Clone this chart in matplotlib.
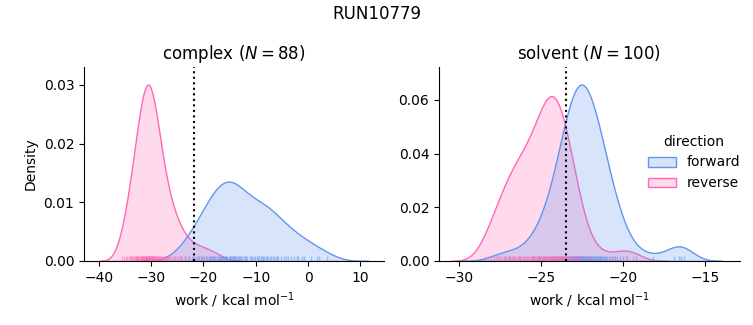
import matplotlib
matplotlib.use("Agg")
import matplotlib.pyplot as plt
import pandas as pd
import seaborn as sns

RUN = "RUN10779"
PHASES = ["complex", "solvent"]
DIRECTIONS = ["forward", "reverse"]
PALETTE = {"forward": "cornflowerblue", "reverse": "hotpink"}

# work values (kcal/mol)
complex_forward = [
    -24.3, -23.6, -22.8, -22.2, -21.7, -21.2, -20.9, -20.5, -20.2,
    -19.8, -19.5, -19.3, -19.0, -18.8, -18.6, -18.3, -18.1,
    -17.9, -17.7, -17.5, -17.3, -17.1, -16.9, -16.7, -16.6, -16.4, -16.2, -16.1,
    -15.9, -15.7, -15.6, -15.4, -15.2, -15.0, -14.9, -14.7, -14.6, -14.4, -14.2, -14.1,
    -13.9, -13.7, -13.5, -13.3, -13.2, -13.0, -12.8, -12.6, -12.3, -12.1,
    -11.8, -11.6, -11.1, -10.9, -10.7, -10.3, -10.1,
    -9.8, -9.6, -9.3, -9.0, -8.8, -8.6, -8.4, -8.1,
    -7.9, -7.6, -7.3, -7.1, -6.8, -6.5, -6.2, -6.0,
    -5.8, -5.2, -4.7, -4.2,
    -3.8, -3.3, -2.7, -2.1,
    -1.9, -1.2, -0.8, 0.5, 1.7, 2.1, 3.6,
]
complex_reverse = [
    -35.6, -35.1, -34.8, -34.5, -34.2, -34.0, -33.8, -33.6, -33.4, -33.2,
    -33.1, -32.9, -32.8, -32.7, -32.6, -32.5, -32.4, -32.3, -32.1, -32.0,
    -31.9, -31.9, -31.8, -31.7, -31.6, -31.5, -31.4, -31.4, -31.3, -31.2,
    -31.1, -31.0, -31.0, -30.9, -30.8, -30.7, -30.7, -30.6, -30.5, -30.4,
    -30.4, -30.3, -30.3, -30.2, -30.2, -30.1, -30.0, -29.9, -29.8, -29.8,
    -29.7, -29.6, -29.5, -29.4, -29.4, -29.3, -29.2, -29.0, -28.9, -28.8,
    -28.7, -28.6, -28.5, -28.3, -28.2, -28.1, -27.9, -27.7, -27.6, -27.4,
    -27.2, -27.0, -26.8, -26.6, -26.3, -26.0, -25.7, -25.4, -25.0, -24.6,
    -24.2, -23.6, -22.9, -22.0, -21.1, -20.0, -19.0, -17.2,
]
solvent_forward = [
    -27.6, -26.9, -26.3, -25.4, -25.1,
    -25.55, -25.04, -24.79, -24.61, -24.47, -24.35, -24.24, -24.16, -24.07, -23.99,
    -23.92, -23.86, -23.8, -23.74, -23.68, -23.63, -23.57, -23.52, -23.48, -23.43,
    -23.39, -23.34, -23.3, -23.26, -23.22, -23.18, -23.14, -23.1, -23.06, -23.02,
    -22.99, -22.95, -22.91, -22.88, -22.84, -22.81, -22.77, -22.74, -22.7, -22.67,
    -22.64, -22.6, -22.57, -22.53, -22.5, -22.5,
    -22.46, -22.43, -22.39, -22.35, -22.32, -22.28, -22.24, -22.2, -22.17, -22.13,
    -22.09, -22.05, -22.01, -21.97, -21.93, -21.89, -21.85, -21.81, -21.77, -21.72,
    -21.68, -21.63, -21.59, -21.54, -21.49, -21.44, -21.39, -21.34, -21.28, -21.22,
    -21.16, -21.1, -21.04, -20.96, -20.88, -20.8, -20.71, -20.61, -20.5, -20.37,
    -20.21, -20.02, -19.74, -19.2,
    -18.2, -16.9, -16.6, -16.5, -16.3,
]
solvent_reverse = [
    -28.4, -28.2, -28.05, -27.86, -27.72, -27.59, -27.47, -27.37, -27.27, -27.19,
    -27.1, -27.02, -26.94, -26.86, -26.79, -26.71, -26.64, -26.56, -26.49, -26.41,
    -26.34, -26.26, -26.18, -26.1, -26.01, -25.92, -25.83, -25.73, -25.63, -25.51,
    -25.38, -25.2, -24.9, -24.42,
    -26.35, -25.96, -25.76, -25.61, -25.5, -25.4, -25.31, -25.24, -25.16, -25.1,
    -25.04, -24.98, -24.93, -24.88, -24.83, -24.78, -24.74, -24.69, -24.65, -24.61,
    -24.57, -24.53, -24.49, -24.45, -24.41, -24.37, -24.33, -24.29, -24.26, -24.22,
    -24.18, -24.14, -24.11, -24.07, -24.03, -23.99, -23.95, -23.91, -23.87, -23.83,
    -23.79, -23.75, -23.71, -23.66, -23.62, -23.57, -23.52, -23.47, -23.42, -23.36,
    -23.3, -23.24, -23.2, -23.16, -23.09, -23.0, -22.9, -22.8, -22.79, -22.64,
    -22.44, -22.05, -21.5, -20.5, -19.8, -19.4,
]
N_WORKS = {"complex": 88, "solvent": 100}
DG = {"complex": -21.8, "solvent": -23.45}   # free energy estimate (dotted line)

works = {
    ("complex", "forward"): complex_forward,
    ("complex", "reverse"): complex_reverse,
    ("solvent", "forward"): solvent_forward,
    ("solvent", "reverse"): solvent_reverse,
}
rows = [(ph, d, w) for (ph, d), ws in works.items() for w in ws]
df = pd.DataFrame(rows, columns=["phase", "direction", "work"])

g = sns.displot(
    data=df, x="work", hue="direction", col="phase", kind="kde",
    fill=True, rug=True, palette=PALETTE,
    col_order=PHASES, hue_order=DIRECTIONS,
    rug_kws=dict(alpha=0.5, lw=1),
    facet_kws=dict(sharex=False, sharey=False),
)
g.set_axis_labels("work / kcal mol$^{-1}$", "Density")

fig = g.figure
fig.set_size_inches(7.53, 3.25)
positions = {"complex": [0.1116, 0.197, 0.3984, 0.597],
             "solvent": [0.583, 0.197, 0.3997, 0.597]}
xlims = {"complex": (-42.8, 14.5), "solvent": (-31.2, -12.9)}
for ph in PHASES:
    ax = g.axes_dict[ph]
    ax.set_position(positions[ph])
    ax.axvline(DG[ph], color="k", ls=":", lw=1.5)
    ax.set_xlim(*xlims[ph])
    ax.set_title(f"{ph} ($N = {N_WORKS[ph]}$)", fontsize=12)

sns.move_legend(g, "center right", bbox_to_anchor=(1.0, 0.5), frameon=False)
fig.suptitle(RUN, fontsize=12, y=0.985)
fig.savefig("out.png", dpi=100)
